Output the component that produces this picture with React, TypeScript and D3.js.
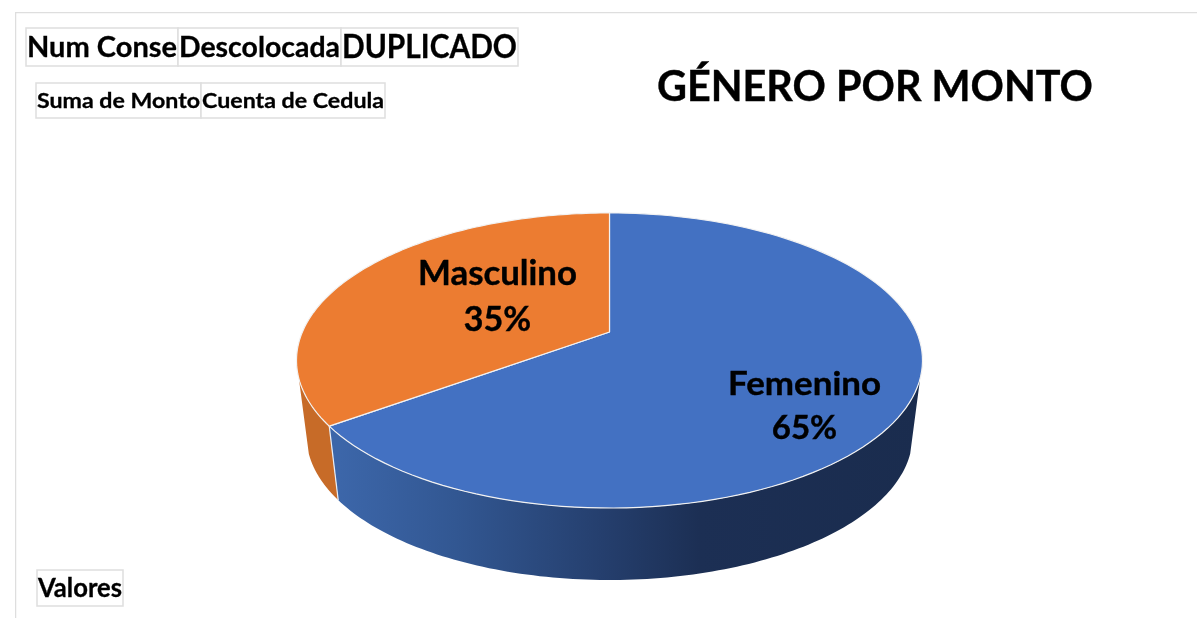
import React from 'react';
import * as d3 from 'd3';

const categories = ['Femenino', 'Masculino'];
const values = [65, 35];
const sliceColors = ['#4371C2', '#EC7C31'];
const fieldsTop = ['Num Conse', 'Descolocada', 'DUPLICADO'];
const fieldsBottom = ['Suma de Monto', 'Cuenta de Cedula'];
const fieldValues = ['Valores'];
const title = 'GÉNERO POR MONTO';

const width = 1197;
const height = 618;
const font = 'Lato, Carlito, sans-serif';
const boxColor = '#dedede';

// perspective squash of the unit circle, the pie center does not sit at the ellipse center
const tilt = -0.193;
const topFace = { cx: 609.5, cy: 360.5, rx: 313, ry: 147.5 };
const bottomFace = { cx: 609.5, cy: 436, rx: 303, ry: 144 };
const visibleFrom = (108 * Math.PI) / 180;
const visibleTo = (252 * Math.PI) / 180;

type Face = typeof topFace;

const project = (face: Face, angle: number, r = 1): [number, number] => {
    const x = Math.sin(angle) * r;
    const y = -Math.cos(angle) * r;
    const w = 1 + tilt * y;
    const k = Math.sqrt(1 - tilt * tilt);
    const a = (1 + tilt) + 28.5 / 147.5;
    return [
        face.cx + (face.rx * k * x) / w,
        face.cy + (face.ry * (a * y - 28.5 / 147.5)) / w,
    ];
};

const sample = (face: Face, from: number, to: number) =>
    d3.range(0, 121).map((i) => project(face, from + ((to - from) * i) / 120));

const line = d3.line();

const pie = d3.pie<number>().sort(null)(values);

const labelLayout = [
    { x: 804.5, y1: 395, y2: 439, size: 33, nameWidth: 153 },
    { x: 497.5, y1: 285, y2: 331, size: 34, nameWidth: 159 },
];

const FieldRow = ({ names, edges, top, bottom, sizes }: any) => (
    <g>
        {names.map((name: string, i: number) => (
            <g key={name}>
                <rect x={edges[i]} y={top} width={edges[i + 1] - edges[i]} height={bottom - top}
                    fill="#fff" stroke={boxColor} strokeWidth={1.5} />
                <text
                    x={(edges[i] + edges[i + 1]) / 2}
                    y={(top + bottom) / 2 + sizes[i] * 0.35}
                    textAnchor="middle"
                    fontFamily={font}
                    fontWeight={700}
                    fontSize={sizes[i]}
                    fill="#000"
                    stroke="#000"
                    strokeWidth={0.3}
                    textLength={edges[i + 1] - edges[i] - 2}
                    lengthAdjust="spacingAndGlyphs"
                >
                    {name}
                </text>
            </g>
        ))}
    </g>
);

export default function App() {
    const sides = pie.map((d) => {
        const from = Math.max(d.startAngle, visibleFrom);
        const to = Math.min(d.endAngle, visibleTo);
        const upper = sample(topFace, from, to);
        const lower = sample(bottomFace, from, to).reverse();
        return line([...upper, ...lower]) + 'Z';
    });

    const tops = pie.map((d) => {
        const center = project(topFace, 0, 0);
        return line([center, ...sample(topFace, d.startAngle, d.endAngle)]) + 'Z';
    });

    return (
        <svg width={width} height={height} style={{ position: 'absolute', left: 0, top: 0 }}>
            <defs>
                <linearGradient id="blueSide" gradientUnits="userSpaceOnUse" x1={340} x2={920} y1={0} y2={0}>
                    <stop offset="0" stopColor="#3C66A9" />
                    <stop offset="0.2" stopColor="#325792" />
                    <stop offset="0.45" stopColor="#253F6E" />
                    <stop offset="0.62" stopColor="#1C2F54" />
                    <stop offset="1" stopColor="#1A2C4E" />
                </linearGradient>
                <filter id="soft" x="0" y="0" width="100%" height="100%" colorInterpolationFilters="sRGB">
                    <feGaussianBlur stdDeviation={0.6} />
                </filter>
            </defs>
            <rect width={width} height={height} fill="#fff" />
            <g filter="url(#soft)">
                <path d={`M15.5,${height}V12.5H${width}`} fill="none" stroke={boxColor} strokeWidth={1.5} />

                <FieldRow names={fieldsTop} edges={[26, 178, 341, 518]} top={28} bottom={66} sizes={[28, 28, 32]} />
                <FieldRow names={fieldsBottom} edges={[36, 201, 385]} top={83} bottom={118} sizes={[21, 21]} />
                <FieldRow names={fieldValues} edges={[37, 123]} top={570} bottom={606} sizes={[26]} />

                <text x={875} y={101} textAnchor="middle" fontFamily={font} fontWeight={700} fontSize={42}
                    textLength={436} lengthAdjust="spacingAndGlyphs" fill="#000" stroke="#000" strokeWidth={0.4}>
                    {title}
                </text>

                <path d={sides[1]} fill="#C76B28" />
                <path d={sides[0]} fill="url(#blueSide)" />
                <path d={line([project(topFace, pie[1].startAngle), project(bottomFace, pie[1].startAngle)]) as string}
                    stroke="#e8edf5" strokeWidth={1.2} fill="none" />
                {tops.map((d, i) => (
                    <path key={categories[i]} d={d} fill={sliceColors[i]} stroke="#f2f2f2" strokeWidth={1.2} strokeLinejoin="round" />
                ))}

                {categories.map((name, i) => {
                    const l = labelLayout[i];
                    return (
                        <g key={name} fontFamily={font} fontWeight={700} fontSize={l.size} textAnchor="middle"
                            fill="#000" stroke="#000" strokeWidth={0.4}>
                            <text x={l.x} y={l.y1} textLength={l.nameWidth} lengthAdjust="spacingAndGlyphs">{name}</text>
                            <text x={l.x} y={l.y2}>{values[i]}%</text>
                        </g>
                    );
                })}
            </g>
        </svg>
    );
}
